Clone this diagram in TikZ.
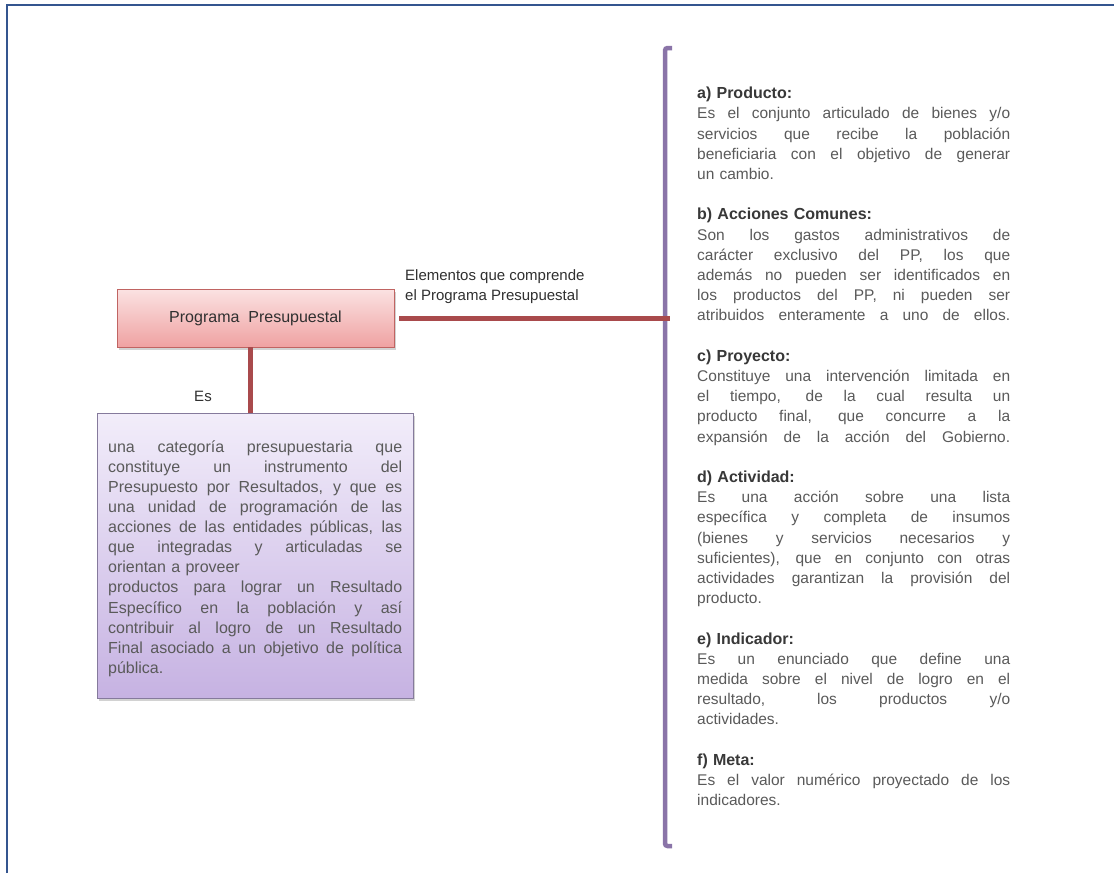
\documentclass[tikz,border=0pt]{standalone}
\usepackage{fontspec}
\setmainfont{Liberation Sans}
\usetikzlibrary{shadows}
\definecolor{bordc}{HTML}{34558F}
\definecolor{connc}{HTML}{A94A4C}
\definecolor{brkc}{HTML}{8A74A8}
\definecolor{pinktop}{HTML}{FBE2E2}
\definecolor{pinkbot}{HTML}{EFA2A2}
\definecolor{pinkdraw}{HTML}{C06462}
\definecolor{purtop}{HTML}{F2EDFA}
\definecolor{purbot}{HTML}{C6B2E2}
\definecolor{purdraw}{HTML}{857A9C}
\definecolor{bodyc}{HTML}{5A5A5A}
\definecolor{headc}{HTML}{383838}
\definecolor{labc}{HTML}{303030}
\newcommand\JR[1]{\leavevmode\hbox to 313pt{\spaceskip=0.278em plus 8em\relax #1}}
\newcommand\JL[1]{\leavevmode\hbox to 294pt{\spaceskip=0.278em plus 8em\relax #1}}
\newcommand\hd[1]{{\color{headc}\fontsize{16}{20.2}\selectfont\bfseries #1}}
\begin{document}
\begin{tikzpicture}[x=1pt,y=-1pt,
  conn/.style={connc, line width=5pt},
  brk/.style={brkc, line width=4.5pt, rounded corners=2.5pt},
  pinkbox/.style={draw=pinkdraw, line width=0.9pt, top color=pinktop, bottom color=pinkbot,
    minimum width=277pt, minimum height=58pt, inner sep=0pt,
    drop shadow={opacity=0.35, shadow xshift=2pt, shadow yshift=-3pt},
    font=\fontsize{16}{19}\selectfont, text=labc},
  purbox/.style={draw=purdraw, line width=0.9pt, top color=purtop, bottom color=purbot,
    minimum width=316pt, minimum height=285pt, inner sep=0pt,
    drop shadow={opacity=0.35, shadow xshift=2pt, shadow yshift=-3pt}},
  lab/.style={font=\fontsize{15}{20}\selectfont, text=labc, inner sep=0pt},
  rtext/.style={font=\fontsize{15.5}{20.2}\selectfont, text=bodyc, text width=313pt, align=left, inner sep=0pt},
  ltext/.style={font=\fontsize{16}{20.1}\selectfont, text=bodyc, text width=294pt, align=left, inner sep=0pt}
]
\useasboundingbox (0,0) rectangle (1114,873);
\fill[white] (0,0) rectangle (1114,873);
% page border (top and left)
\draw[bordc, line width=2.2pt] (7,873) -- (7,5) -- (1114,5);

% boxes
\node[pinkbox] (pp) at (255.5,318) {Programa\ \ Presupuestal};
\node[purbox] (desc) at (255,555.5) {};
\node[ltext, anchor=north west] (desctext) at (108,438) {%
\rule{0pt}{14pt}\JL{una categoría presupuestaria que}\\
\JL{constituye un instrumento del}\\
\JL{Presupuesto por Resultados, y que es}\\
\JL{una unidad de programación de las}\\
\JL{acciones de las entidades públicas, las}\\
\JL{que integradas y articuladas se}\\
orientan a proveer\\
\JL{productos para lograr un Resultado}\\
\JL{Específico en la población y así}\\
\JL{contribuir al logro de un Resultado}\\
\JL{Final asociado a un objetivo de política}\\
pública.};

% bracket
\coordinate (btop) at (665,48);
\coordinate (bbot) at (665,846);
\coordinate (bmid) at (670,318);
\draw[brk] ([xshift=7pt]btop) -- (btop) -- (bbot) -- ([xshift=7pt]bbot);

% connectors
\draw[conn] ([xshift=5pt]pp.east) -- (bmid);
\draw[conn] ([xshift=-5.5pt]pp.south) -- ([xshift=-5.5pt]pp.south |- desc.north);

% labels
\node[lab] (es) at (203,396) {Es};
\node[lab, align=left, anchor=north west] (elem) at (405,268) {\rule{0pt}{12pt}Elementos que comprende\\el Programa Presupuestal};

% right text
\node[rtext, anchor=north west] (rt) at (697,86.5) {%
\rule{0pt}{12pt}\hd{a) Producto:}\\
\JR{Es el conjunto articulado de bienes y/o}\\
\JR{servicios que recibe la población}\\
\JR{beneficiaria con el objetivo de generar}\\
un cambio.\\[20.2pt]
\hd{b) Acciones Comunes:}\\
\JR{Son los gastos administrativos de}\\
\JR{carácter exclusivo del PP, los que}\\
\JR{además no pueden ser identificados en}\\
\JR{los productos del PP, ni pueden ser}\\
\JR{atribuidos enteramente a uno de ellos.}\\[20.2pt]
\hd{c) Proyecto:}\\
\JR{Constituye una intervención limitada en}\\
\JR{el tiempo, de la cual resulta un}\\
\JR{producto final, que concurre a la}\\
\JR{expansión de la acción del Gobierno.}\\[20.2pt]
\hd{d) Actividad:}\\
\JR{Es una acción sobre una lista}\\
\JR{específica y completa de insumos}\\
\JR{(bienes y servicios necesarios y}\\
\JR{suficientes), que en conjunto con otras}\\
\JR{actividades garantizan la provisión del}\\
producto.\\[20.2pt]
\hd{e) Indicador:}\\
\JR{Es un enunciado que define una}\\
\JR{medida sobre el nivel de logro en el}\\
\JR{resultado, los productos y/o}\\
actividades.\\[20.2pt]
\hd{f) Meta:}\\
\JR{Es el valor numérico proyectado de los}\\
indicadores.};
\end{tikzpicture}
\end{document}
